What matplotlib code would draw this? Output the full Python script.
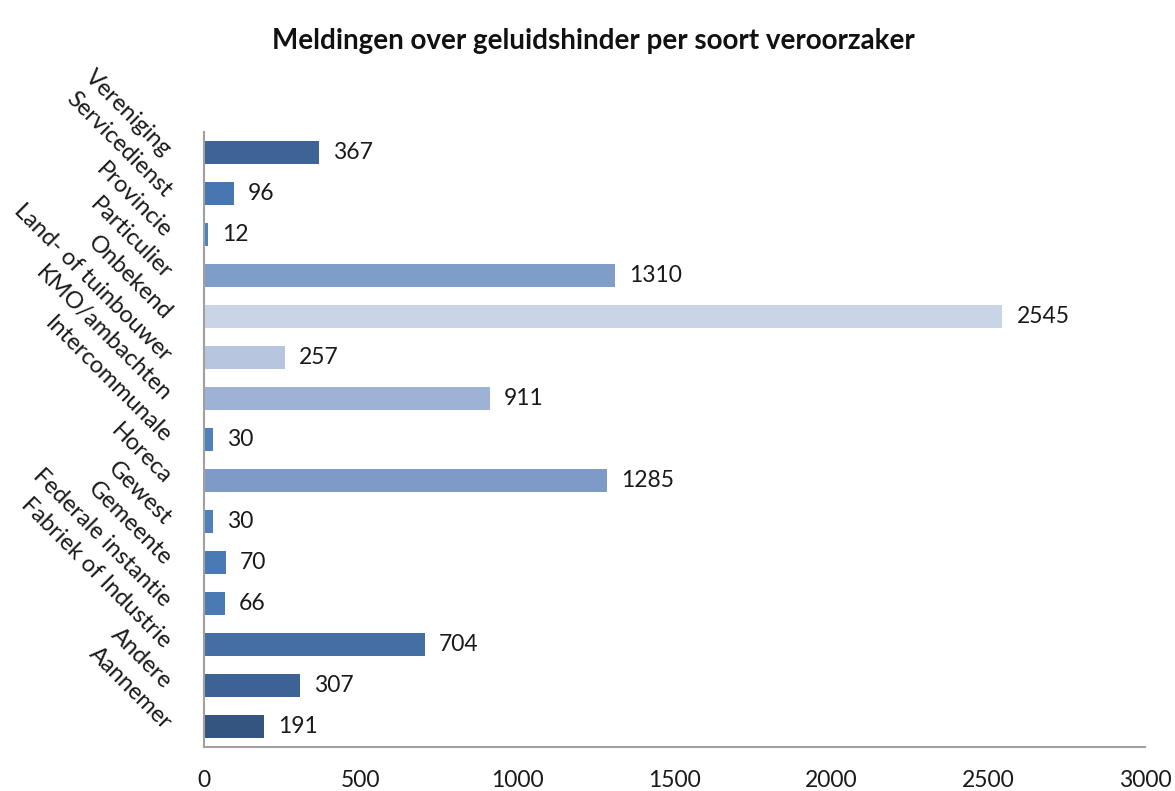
import matplotlib.pyplot as plt
import numpy as np

# Categorieen van onder naar boven (zoals in de grafiek)
soorten = ['Aannemer', 'Andere', 'Fabriek of Industrie', 'Federale instantie',
           'Gemeente', 'Gewest', 'Horeca', 'Intercommunale', 'KMO/ambachten',
           'Land- of tuinbouwer', 'Onbekend', 'Particulier', 'Provincie',
           'Servicedienst', 'Vereniging']
meldingen = [191, 307, 704, 66, 70, 30, 1285, 30, 911, 257, 2545, 1310, 12, 96, 367]
kleuren = ['#34557F', '#3D6394', '#456FA4', '#4A7AB4', '#4A7AB4', '#4F81BD',
           '#7E9BC8', '#4F81BD', '#9DB2D5', '#B7C5DF', '#CAD4E7', '#7F9DC9',
           '#4F81BD', '#4876B0', '#3D6494']
x_ticks = [0, 500, 1000, 1500, 2000, 2500, 3000]

plt.rcParams['font.family'] = ['Lato', 'DejaVu Sans']

fig = plt.figure(figsize=(11.75, 7.91), dpi=100)
ax = fig.add_axes([0.1736, 0.056, 0.801, 0.777])

y = np.arange(len(soorten))
bars = ax.barh(y, meldingen, height=0.56, color=kleuren)

for b, v in zip(bars, meldingen):
    ax.text(b.get_width() + 45, b.get_y() + b.get_height() / 2, str(v),
            va='center', ha='left', fontsize=16.5, color='#1a1a1a')

ax.set_xlim(0, 3000)
ax.set_ylim(-0.5, len(soorten) - 0.5)
ax.set_xticks(x_ticks)
ax.set_xticklabels([str(t) for t in x_ticks], fontsize=16.5, color='#1a1a1a')
ax.set_yticks(y)
ax.set_yticklabels(soorten, fontsize=17, color='#1a1a1a', rotation=-45,
                   rotation_mode='anchor', ha='right', va='center')
ax.tick_params(axis='both', length=0)
ax.tick_params(axis='y', pad=26)
ax.tick_params(axis='x', pad=17)

for s in ['top', 'right']:
    ax.spines[s].set_visible(False)
for s in ['left', 'bottom']:
    ax.spines[s].set_color('#A0A0A0')
    ax.spines[s].set_linewidth(1.5)

fig.suptitle('Meldingen over geluidshinder per soort veroorzaker', x=0.505, y=0.965,
             fontsize=20, fontweight='bold', color='#111111')

fig.savefig('out.png', dpi=100)
